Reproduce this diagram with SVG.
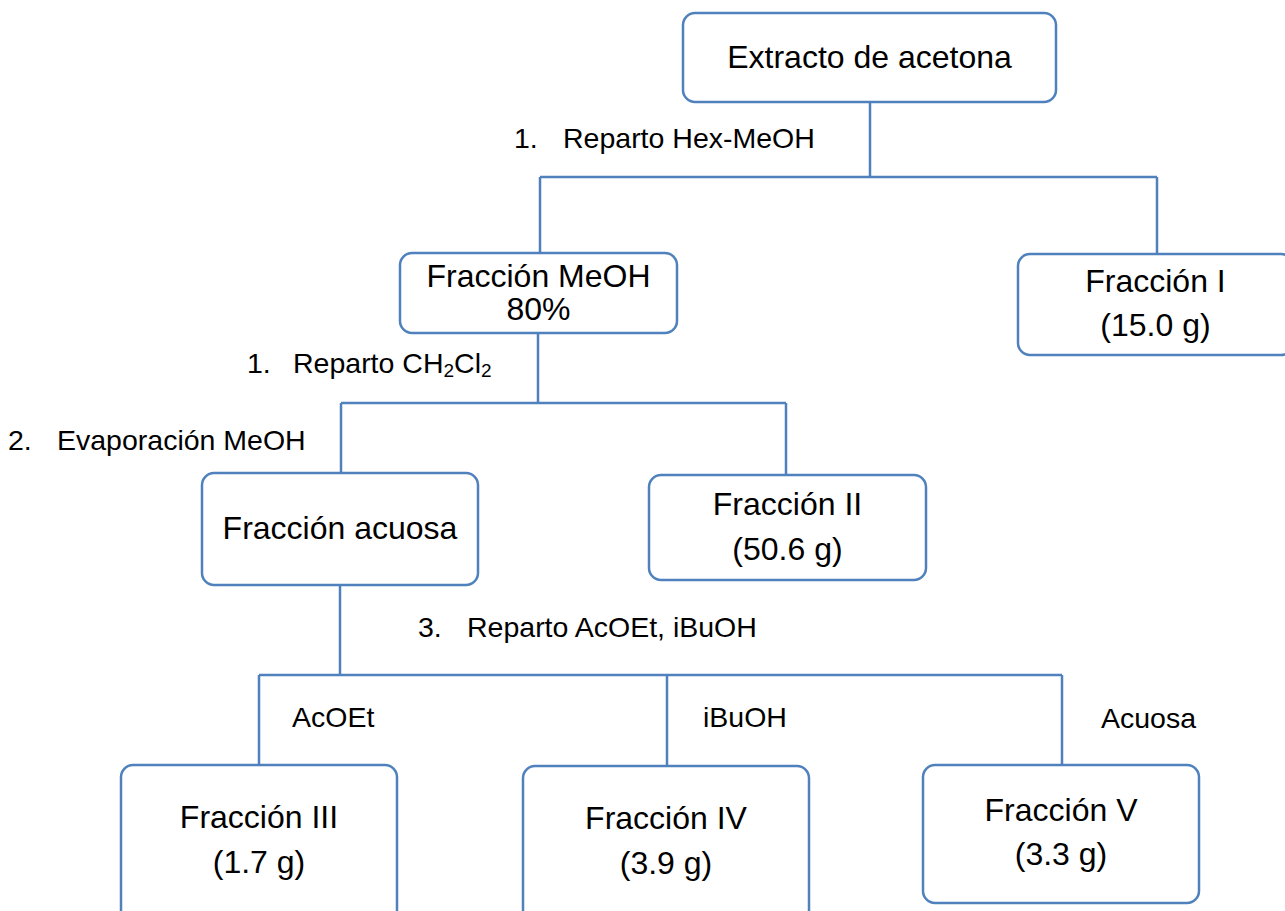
<svg xmlns="http://www.w3.org/2000/svg" width="1285" height="911" viewBox="0 0 1285 911">
<style>
.box{fill:#fff;stroke:#4F81BD;stroke-width:2.5}
.ln{fill:none;stroke:#4F81BD;stroke-width:2.5}
.t{font-family:"Liberation Sans",Arial,sans-serif;font-size:32px;fill:#000;text-anchor:middle}
.l{font-family:"Liberation Sans",Arial,sans-serif;font-size:28.5px;fill:#000}
</style>
<rect width="1285" height="911" fill="#fff"/>
<g id="connectors">
<path class="ln" d="M870 102V177M540 177H1157M540 177V253M1157 177V254"/>
<path class="ln" d="M538 333V403M341 403H786M341 403V473M786 403V475"/>
<path class="ln" d="M340 585V675M259 675H1062M259 675V765M667 675V766M1062 675V765"/>
</g>
<g id="labels">
<text class="l" x="514" y="148">1.</text><text class="l" x="563" y="148">Reparto Hex-MeOH</text>
<text class="l" x="247" y="373">1.</text><text class="l" x="293" y="373">Reparto CH<tspan font-size="19" dy="4">2</tspan><tspan dy="-4">Cl</tspan><tspan font-size="19" dy="4">2</tspan></text>
<text class="l" x="8" y="450">2.</text><text class="l" x="57" y="450">Evaporación MeOH</text>
<text class="l" x="418" y="637">3.</text><text class="l" x="467" y="637">Reparto AcOEt, iBuOH</text>
<text class="l" x="292" y="727">AcOEt</text>
<text class="l" x="703" y="727">iBuOH</text>
<text class="l" x="1101" y="728">Acuosa</text>
</g>
<g id="n-extracto"><rect class="box" x="683" y="13" width="373" height="89" rx="12"/><text class="t" x="869.5" y="68">Extracto de acetona</text></g>
<g id="n-meoh"><rect class="box" x="400" y="253" width="277" height="80" rx="12"/><text class="t" x="538.5" y="287">Fracción MeOH</text><text class="t" x="538.5" y="320">80%</text></g>
<g id="n-f1"><rect class="box" x="1018" y="254" width="275" height="101" rx="12"/><text class="t" x="1155.5" y="292">Fracción I</text><text class="t" x="1155.5" y="336">(15.0 g)</text></g>
<g id="n-acuosa"><rect class="box" x="202" y="473" width="276" height="112" rx="12"/><text class="t" x="340" y="539">Fracción acuosa</text></g>
<g id="n-f2"><rect class="box" x="649" y="475" width="277" height="105" rx="12"/><text class="t" x="787.5" y="515">Fracción II</text><text class="t" x="787.5" y="560">(50.6 g)</text></g>
<g id="n-f3"><rect class="box" x="121" y="765" width="276" height="160" rx="12"/><text class="t" x="259" y="828">Fracción III</text><text class="t" x="259" y="873">(1.7 g)</text></g>
<g id="n-f4"><rect class="box" x="523" y="766" width="286" height="160" rx="12"/><text class="t" x="666" y="829">Fracción IV</text><text class="t" x="666" y="874">(3.9 g)</text></g>
<g id="n-f5"><rect class="box" x="923" y="765" width="276" height="138" rx="12"/><text class="t" x="1061" y="821">Fracción V</text><text class="t" x="1061" y="865">(3.3 g)</text></g>
</svg>
